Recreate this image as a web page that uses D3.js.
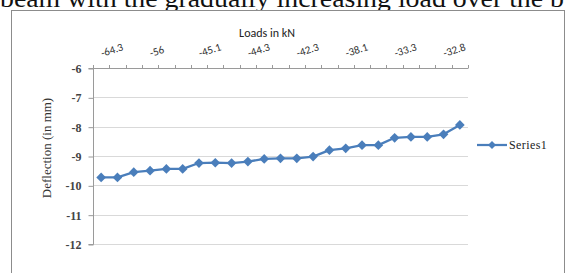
<!DOCTYPE html>
<html>
<head>
<meta charset="utf-8">
<script src="https://cdn.jsdelivr.net/npm/d3@7"></script>
<style>
	html, body { margin: 0; padding: 0; background: #fff; }
	svg { display: block; }
</style>
</head>
<body>
<div id="chart"></div>
<script>

// deflection read per load step (23 steps), in mm
const deflection = [
	-9.73, -9.73, -9.55, -9.50, -9.44, -9.44, -9.24, -9.23, -9.24, -9.19, -9.10, -9.08,
	-9.08, -9.02, -8.80, -8.74, -8.63, -8.63, -8.38, -8.35, -8.35, -8.26, -7.94
];

// only every 3rd load label is printed on the axis
const loadLabels = [ "-64.3", "-56", "-45.1", "-44.3", "-42.3", "-38.1", "-33.3", "-32.8" ];
const labelStep = 3;

const yTicks = [ -6, -7, -8, -9, -10, -11, -12 ];
const seriesName = "Series1";

///////////////////////////////////////////////////////////////////////

const width = 566, height = 273;
const plot = { left: 93, right: 468, top: 68, bottom: 244 };

const svg = d3.select( "#chart" )
	.append( "svg" )
		.attr( "width", width )
		.attr( "height", height );

// caption line from the page above the chart (cut off at the top, as in the source)
svg.append( "text" )
	.attr( "x", 0 )
	.attr( "y", 7 )
	.attr( "font-family", "'Liberation Serif', 'Times New Roman', serif" )
	.attr( "font-size", 25 )
	.attr( "fill", "#111" )
	.attr( "textLength", 564 )
	.attr( "lengthAdjust", "spacingAndGlyphs" )
	.text( "beam with the gradually increasing load over the b" );

// chart frame
svg.append( "rect" )
	.attr( "x", 11.5 )
	.attr( "y", 10.5 )
	.attr( "width", 553 )
	.attr( "height", 280 )
	.attr( "fill", "#fff" )
	.attr( "stroke", "#8c8c8c" )
	.attr( "stroke-width", 1 );

const idx = d3.range( deflection.length );

const x = d3.scaleBand()
	.domain( idx )
	.range( [ plot.left, plot.right ] );

const y = d3.scaleLinear()
	.domain( [ -6, -12 ] )
	.range( [ plot.top, plot.bottom ] );

// gridlines
svg.append( "g" )
	.selectAll( "line" )
	.data( yTicks.filter( d => d !== -6 ) )
	.join( "line" )
		.attr( "x1", plot.left )
		.attr( "x2", plot.right )
		.attr( "y1", d => Math.round( y( d ) ) + 0.5 )
		.attr( "y2", d => Math.round( y( d ) ) + 0.5 )
		.attr( "stroke", "#d9d9d9" )
		.attr( "stroke-width", 1 );

// y axis
const yAxis = svg.append( "g" )
	.attr( "transform", `translate(${ plot.left + 0.5 },0.5)` )
	.call( d3.axisLeft( y ).tickValues( yTicks ).tickSize( 5 ).tickPadding( 7 ).tickFormat( d => String( d ) ) );
yAxis.select( ".domain" ).attr( "stroke", "#9a9a9a" ).attr( "d", `M-5,${ plot.top }H0V${ plot.bottom }H-5` );
yAxis.selectAll( ".tick line" ).attr( "stroke", "#9a9a9a" );
yAxis.selectAll( ".tick text" )
	.attr( "font-family", "'Liberation Serif', 'Times New Roman', serif" )
	.attr( "font-size", 12 )
	.attr( "font-weight", "bold" )
	.attr( "fill", "#444" );

// category axis sits on top (crosses at -6)
const boundaries = d3.range( deflection.length + 1 ).map( i => plot.left + i * x.bandwidth() );
const catAxis = svg.append( "g" );
catAxis.append( "line" )
	.attr( "x1", plot.left )
	.attr( "x2", plot.right )
	.attr( "y1", plot.top + 0.5 )
	.attr( "y2", plot.top + 0.5 )
	.attr( "stroke", "#9a9a9a" );
catAxis.selectAll( "line.tk" )
	.data( boundaries )
	.join( "line" )
		.attr( "class", "tk" )
		.attr( "x1", d => Math.round( d ) + 0.5 )
		.attr( "x2", d => Math.round( d ) + 0.5 )
		.attr( "y1", plot.top + 0.5 )
		.attr( "y2", plot.top - 3 )
		.attr( "stroke", "#9a9a9a" );

catAxis.selectAll( "text" )
	.data( loadLabels )
	.join( "text" )
		.attr( "transform", ( d, i ) => `translate(${ x( i * labelStep ) + x.bandwidth() / 2 + 1 },${ plot.top - 11 }) rotate(-18)` )
		.attr( "font-family", "Carlito, Calibri, 'Liberation Sans', sans-serif" )
		.attr( "font-size", 11 )
		.attr( "fill", "#333" )
		.text( d => d );

// axis titles
svg.append( "text" )
	.attr( "x", 267 )
	.attr( "y", 37 )
	.attr( "text-anchor", "middle" )
	.attr( "font-family", "Carlito, Calibri, 'Open Sans', sans-serif" )
	.attr( "font-size", 12 )
	.attr( "fill", "#222" )
	.text( "Loads in kN" );

svg.append( "text" )
	.attr( "transform", "translate(51,148) rotate(-90)" )
	.attr( "text-anchor", "middle" )
	.attr( "font-family", "'Liberation Serif', 'Times New Roman', serif" )
	.attr( "font-size", 13 )
	.attr( "fill", "#333" )
	.text( "Deflection (in mm)" );

// series
const cx = i => x( i ) + x.bandwidth() / 2;
const blue = "#4a7ebb";

svg.append( "path" )
	.datum( deflection )
	.attr( "fill", "none" )
	.attr( "stroke", blue )
	.attr( "stroke-width", 2.25 )
	.attr( "stroke-linejoin", "round" )
	.attr( "d", d3.line().x( ( d, i ) => cx( i ) ).y( d => y( d ) ) );

const diamond = d3.symbol().type( d3.symbolDiamond2 ).size( 60 );

svg.append( "g" )
	.selectAll( "path" )
	.data( deflection )
	.join( "path" )
		.attr( "transform", ( d, i ) => `translate(${ cx( i ) },${ y( d ) })` )
		.attr( "d", diamond )
		.attr( "fill", blue );

// legend
const lg = svg.append( "g" ).attr( "transform", "translate(477,145)" );
lg.append( "line" )
	.attr( "x1", 0 ).attr( "x2", 30 )
	.attr( "y1", 0 ).attr( "y2", 0 )
	.attr( "stroke", blue )
	.attr( "stroke-width", 2.25 );
lg.append( "path" )
	.attr( "transform", "translate(15,0)" )
	.attr( "d", d3.symbol().type( d3.symbolDiamond2 ).size( 40 ) )
	.attr( "fill", blue );
lg.append( "text" )
	.attr( "x", 32 )
	.attr( "y", 4 )
	.attr( "font-family", "'Liberation Serif', 'Times New Roman', serif" )
	.attr( "font-size", 12 )
	.attr( "letter-spacing", 0.4 )
	.attr( "fill", "#222" )
	.text( seriesName );

</script>
</body>
</html>
